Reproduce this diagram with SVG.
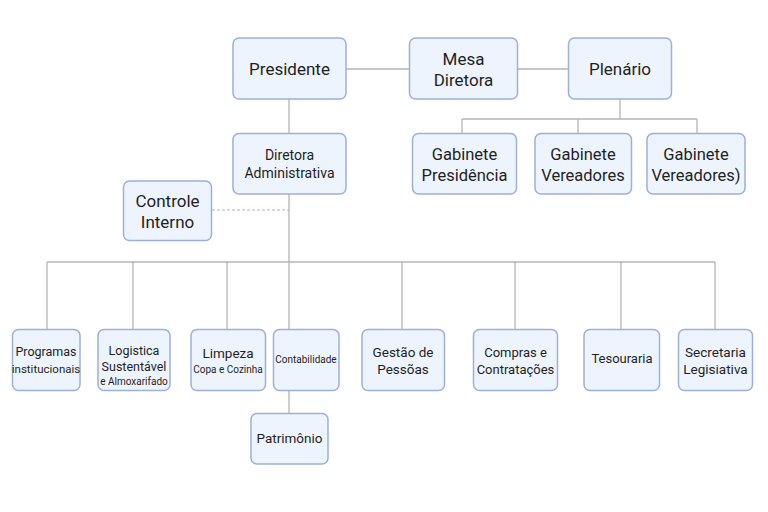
<svg xmlns="http://www.w3.org/2000/svg" width="768" height="512" viewBox="0 0 768 512">
<style>
.n{fill:#eef4fd;stroke:#9cb0d8;stroke-width:1.5}
.t{font-family:Roboto,"Noto Sans",sans-serif;fill:#1f1f1f;text-anchor:middle}
.c{stroke:#b5b5b5;stroke-width:1.3;fill:none}
.d{stroke:#b0b0b0;stroke-width:1;stroke-dasharray:3 2;fill:none}
</style>
<rect width="768" height="512" fill="#ffffff"/>
<g id="connectors">
<path class="c" d="M346 69H409M518 69H568"/>
<path class="c" d="M289 99V133M289 194V329M289 391V413"/>
<path class="c" d="M620 99V119M462 119H697M462 119V133M578 119V133M697 119V133"/>
<path class="c" d="M47 262H715M47 262V329M133 262V329M227 262V329M402 262V329M515 262V329M621 262V329M715 262V329"/>
<path class="d" d="M212 210H289"/>
</g>
<g id="presidente"><rect class="n" x="233" y="38" width="113" height="61" rx="6"/><text class="t" x="289.5" y="75" font-size="17">Presidente</text></g>
<g id="mesa"><rect class="n" x="409.5" y="38" width="108" height="61" rx="6"/><text class="t" x="463.5" y="65" font-size="17">Mesa</text><text class="t" x="463.5" y="86" font-size="17">Diretora</text></g>
<g id="plenario"><rect class="n" x="568.5" y="38" width="103" height="61" rx="6"/><text class="t" x="620" y="75" font-size="17">Plenário</text></g>
<g id="diretora"><rect class="n" x="233" y="133.5" width="113" height="60.5" rx="6"/><text class="t" x="289.5" y="160" font-size="14">Diretora</text><text class="t" x="289.5" y="178" font-size="14">Administrativa</text></g>
<g id="controle"><rect class="n" x="123.5" y="181" width="88" height="59.5" rx="6"/><text class="t" x="167.5" y="207" font-size="17">Controle</text><text class="t" x="167.5" y="228" font-size="17">Interno</text></g>
<g id="gab-presidencia"><rect class="n" x="412.5" y="133.5" width="104" height="60.5" rx="6"/><text class="t" x="464.5" y="160" font-size="16.5">Gabinete</text><text class="t" x="464.5" y="181" font-size="16.5">Presidência</text></g>
<g id="gab-vereadores"><rect class="n" x="535" y="133.5" width="96.5" height="60.5" rx="6"/><text class="t" x="583" y="160" font-size="16.5">Gabinete</text><text class="t" x="583" y="181" font-size="16.5">Vereadores</text></g>
<g id="gab-vereadores2"><rect class="n" x="647" y="133.5" width="98" height="60.5" rx="6"/><text class="t" x="696" y="160" font-size="16.5">Gabinete</text><text class="t" x="696" y="181" font-size="16.5">Vereadores)</text></g>
<g id="programas"><rect class="n" x="12.5" y="329.5" width="67.5" height="61" rx="6"/><text class="t" x="46" y="356" font-size="12.5">Programas</text><text class="t" x="46" y="373" font-size="11.5">institucionais</text></g>
<g id="logistica"><rect class="n" x="98" y="329.5" width="72" height="61" rx="6"/><text class="t" x="134" y="355" font-size="12.5">Logistica</text><text class="t" x="134" y="371" font-size="12.5">Sustentável</text><text class="t" x="134" y="385" font-size="10">e Almoxarifado</text></g>
<g id="limpeza"><rect class="n" x="191" y="329.5" width="74.5" height="61" rx="6"/><text class="t" x="228" y="358" font-size="13.5">Limpeza</text><text class="t" x="228" y="373" font-size="10">Copa e Cozinha</text></g>
<g id="contabilidade"><rect class="n" x="273.5" y="329.5" width="65.5" height="61" rx="6"/><text class="t" x="306" y="363" font-size="10">Contabilidade</text></g>
<g id="gestao"><rect class="n" x="362" y="329.5" width="82.5" height="61" rx="6"/><text class="t" x="403" y="357" font-size="13.5">Gestão de</text><text class="t" x="403" y="374" font-size="13.5">Pessõas</text></g>
<g id="compras"><rect class="n" x="473.5" y="329.5" width="84" height="61" rx="6"/><text class="t" x="515.5" y="357" font-size="13">Compras e</text><text class="t" x="515.5" y="374" font-size="13">Contratações</text></g>
<g id="tesouraria"><rect class="n" x="584" y="329.5" width="75.5" height="61" rx="6"/><text class="t" x="622" y="363" font-size="13">Tesouraria</text></g>
<g id="secretaria"><rect class="n" x="678.5" y="329.5" width="74" height="61" rx="6"/><text class="t" x="715.5" y="357" font-size="13.5">Secretaria</text><text class="t" x="715.5" y="374" font-size="13.5">Legisiativa</text></g>
<g id="patrimonio"><rect class="n" x="251" y="413.5" width="77" height="50.5" rx="6"/><text class="t" x="289.5" y="443" font-size="13.5">Patrimônio</text></g>
</svg>
